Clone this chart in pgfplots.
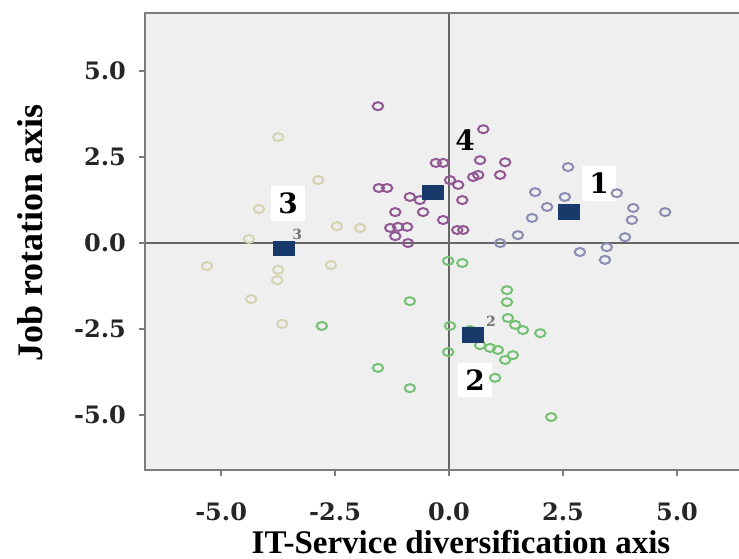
\documentclass[border=0pt]{standalone}
\usepackage{fontspec}
\setmainfont{DejaVu Serif}
\newfontfamily\titlefont{Liberation Serif}
\usepackage{pgfplots}
\pgfplotsset{compat=1.18}
\definecolor{bgc}{HTML}{EFEFEF}
\definecolor{cA}{HTML}{8C8CB2}
\definecolor{cB}{HTML}{74C074}
\definecolor{cC}{HTML}{D4D4B2}
\definecolor{cD}{HTML}{925892}
\definecolor{cen}{HTML}{173A6A}
\definecolor{frame}{HTML}{7C7C7C}
\begin{document}
\begin{tikzpicture}
\begin{axis}[name=ax, scale only axis, width=297pt, height=228.5pt,
  xmin=-6.67, xmax=6.36, ymin=-6.6, ymax=6.69,
  clip=false,
  axis background/.style={fill=bgc},
  axis line style={draw=none},
  xtick={-5,-2.5,0,2.5,5}, ytick={-5,-2.5,0,2.5,5},
  xtick pos=left, ytick pos=left,
  tick align=outside, major tick length=3pt,
  tick style={color=frame, line width=0.9pt},
  /pgf/number format/fixed, /pgf/number format/fixed zerofill,
  /pgf/number format/precision=1, /pgf/number format/assume math mode=true,
  tick label style={font=\bfseries\fontsize{12}{14}\selectfont, text=black!85},
  xticklabel style={yshift=-10pt},
  yticklabel style={xshift=-3pt},
]
\draw[color=black!60, line width=0.8pt] (axis cs:0,-6.6) -- (axis cs:0,6.69);
\draw[color=black!60, line width=0.8pt] (axis cs:-6.67,0) -- (axis cs:6.36,0);

% cluster 3 (khaki)
\addplot[only marks, mark=o, mark size=2.0pt, color=cC, mark options={line width=1pt, xscale=1.3}] coordinates {
(-3.75,3.08) (-4.17,0.99) (-2.87,1.83) (-2.46,0.49) (-1.95,0.44) (-5.31,-0.67)
(-2.59,-0.64) (-3.75,-0.78) (-3.77,-1.08) (-4.34,-1.63) (-3.66,-2.35) (-4.39,0.12)
};
% cluster 2 (green)
\addplot[only marks, mark=o, mark size=2.0pt, color=cB, mark options={line width=1pt, xscale=1.3}] coordinates {
(-2.79,-2.41) (-0.86,-1.69) (-1.56,-3.63) (-0.86,-4.22) (-0.02,-0.52) (0.29,-0.58)
(1.27,-1.37) (1.27,-1.72) (1.29,-2.18) (1.45,-2.38) (1.62,-2.53) (2.0,-2.62)
(0.02,-2.41) (-0.02,-3.17) (0.9,-3.05) (1.07,-3.11) (1.23,-3.4) (1.4,-3.26)
(1.01,-3.92) (2.24,-5.06) (0.46,-2.53) (0.68,-2.97)
};
% cluster 4 (purple)
\addplot[only marks, mark=o, mark size=2.0pt, color=cD, mark options={line width=1pt, xscale=1.3}] coordinates {
(-1.56,3.98) (-0.29,2.33) (-0.13,2.33) (-1.54,1.6) (-1.36,1.6) (-0.86,1.34)
(-1.18,0.9) (-0.57,0.9) (-1.29,0.44) (-1.12,0.47) (-0.92,0.47) (-1.18,0.2)
(-0.9,0.0) (-0.13,0.67) (0.18,0.38) (0.31,0.38) (0.29,1.25) (0.2,1.69)
(0.02,1.83) (0.53,1.92) (0.64,1.98) (0.68,2.41) (0.75,3.31) (1.23,2.35)
(1.12,1.98) (-0.64,1.25)
};
% cluster 1 (lavender)
\addplot[only marks, mark=o, mark size=2.0pt, color=cA, mark options={line width=1pt, xscale=1.3}] coordinates {
(2.61,2.21) (1.89,1.48) (2.54,1.34) (2.15,1.05) (1.82,0.73) (1.51,0.23)
(1.12,0.0) (2.87,-0.26) (3.46,-0.12) (3.42,-0.49) (3.86,0.17) (4.01,0.67)
(4.04,1.02) (3.68,1.45) (4.74,0.9)
};
% centroids
\addplot[only marks, mark=square*, mark size=3.6pt, color=cen, mark options={xscale=1.45}] coordinates {
(2.63,0.9) (0.53,-2.67) (-3.62,-0.15) (-0.35,1.48)
};

% small labels
\node[font=\bfseries\fontsize{7}{8}\selectfont, text=black!55] at (axis cs:0.92,-2.27) {2};
\node[font=\bfseries\fontsize{7}{8}\selectfont, text=black!55] at (axis cs:-3.33,0.26) {3};
\node[font=\bfseries\fontsize{5}{6}\selectfont, text=orange!70] at (axis cs:2.95,1.35) {1};

% big labels
\node[fill=white, inner sep=3.5pt, font=\bfseries\fontsize{14}{16}\selectfont] at (axis cs:3.29,1.74) {1};
\node[fill=white, inner sep=3.5pt, font=\bfseries\fontsize{14}{16}\selectfont] at (axis cs:0.57,-3.98) {2};
\node[fill=white, inner sep=3.5pt, font=\bfseries\fontsize{14}{16}\selectfont] at (axis cs:-3.53,1.16) {3};
\node[inner sep=3.5pt, font=\bfseries\fontsize{14}{16}\selectfont] at (axis cs:0.35,3.0) {4};

% frame
\draw[color=frame, line width=1.3pt] (rel axis cs:1,1) -- (rel axis cs:0,1) -- (rel axis cs:0,0) -- (rel axis cs:1,0);

% axis titles
\node[anchor=base, inner sep=0pt, font=\titlefont\bfseries\fontsize{16.5}{19}\selectfont] at ([yshift=-41.5pt]rel axis cs:0.532,0) {IT-Service diversification axis};
\node[rotate=90, font=\titlefont\bfseries\fontsize{18}{20}\selectfont] at ([xshift=-57.5pt]rel axis cs:0,0.519) {Job rotation axis};
\end{axis}
\pgfresetboundingbox
\path ([xshift=-72.5pt,yshift=-44pt]ax.south west) rectangle ([yshift=6.5pt]ax.north east);
\end{tikzpicture}
\end{document}
